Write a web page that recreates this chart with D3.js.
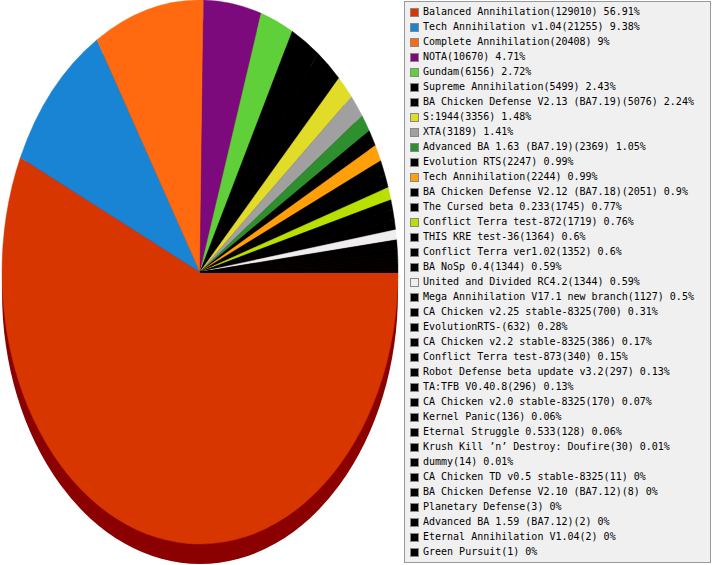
<!DOCTYPE html>
<html>
<head>
    <meta charset="utf-8">
    <style>
        body{
            margin:0;
            background:white;
        }
        svg{
            display:block;
            background-color:white;
        }
        .legend{
            position:absolute;
            left:404px;
            top:1px;
            width:305px;
            height:560px;
            background:#f0f0f0;
            border:1px solid #999;
        }
        .row{
            position:absolute;
            left:0;
            height:15px;
            white-space:nowrap;
            font-family:"DejaVu Sans Mono", "Liberation Mono", monospace;
            font-size:10px;
            line-height:15px;
            color:#000;
        }
        .sw{
            position:absolute;
            left:5px;
            top:3px;
            width:7px;
            height:7px;
            border:1px solid #888;
        }
        .lbl{
            position:absolute;
            left:18px;
            top:-1px;
        }
    </style>
</head>
<body>
<script src="https://d3js.org/d3.v7.min.js"></script>
<script>

const names = [
    'Balanced Annihilation', 'Tech Annihilation v1.04', 'Complete Annihilation', 'NOTA', 'Gundam',
    'Supreme Annihilation', 'BA Chicken Defense V2.13 (BA7.19)', 'S:1944', 'XTA', 'Advanced BA 1.63 (BA7.19)',
    'Evolution RTS', 'Tech Annihilation', 'BA Chicken Defense V2.12 (BA7.18)', 'The Cursed beta 0.233',
    'Conflict Terra test-872', 'THIS KRE test-36', 'Conflict Terra ver1.02', 'BA NoSp 0.4',
    'United and Divided RC4.2', 'Mega Annihilation V17.1 new branch', 'CA Chicken v2.25 stable-8325',
    'EvolutionRTS-', 'CA Chicken v2.2 stable-8325', 'Conflict Terra test-873', 'Robot Defense beta update v3.2',
    'TA:TFB V0.40.8', 'CA Chicken v2.0 stable-8325', 'Kernel Panic', 'Eternal Struggle 0.533',
    'Krush Kill \u2019n\u2019 Destroy: Doufire', 'dummy', 'CA Chicken TD v0.5 stable-8325',
    'BA Chicken Defense V2.10 (BA7.12)', 'Planetary Defense', 'Advanced BA 1.59 (BA7.12)',
    'Eternal Annihilation V1.04', 'Green Pursuit'
];

const counts = [
    129010, 21255, 20408, 10670, 6156,
    5499, 5076, 3356, 3189, 2369,
    2247, 2244, 2051, 1745,
    1719, 1364, 1352, 1344,
    1344, 1127, 700,
    632, 386, 340, 297,
    296, 170, 136, 128,
    30, 14, 11,
    8, 3, 2,
    2, 1
];

const percents = [
    '56.91', '9.38', '9', '4.71', '2.72',
    '2.43', '2.24', '1.48', '1.41', '1.05',
    '0.99', '0.99', '0.9', '0.77',
    '0.76', '0.6', '0.6', '0.59',
    '0.59', '0.5', '0.31',
    '0.28', '0.17', '0.15', '0.13',
    '0.13', '0.07', '0.06', '0.06',
    '0.01', '0.01', '0',
    '0', '0', '0',
    '0', '0'
];

const colors = [
    '#d83600', '#1a84d4', '#ff6a10', '#7c0a7c', '#5fcf3a',
    '#000000', '#000000', '#e0dc28', '#a0a0a0', '#2e8f2e',
    '#000000', '#ffa00a', '#000000', '#000000',
    '#b8e000', '#000000', '#000000', '#000000',
    '#eeeeee', '#000000', '#000000',
    '#000000', '#000000', '#000000', '#000000',
    '#000000', '#000000', '#000000', '#000000',
    '#000000', '#000000', '#000000',
    '#000000', '#000000', '#000000',
    '#000000', '#000000'
];

const width = 713;
const height = 565;

// pie ellipse
const cx = 200;
const cy = 272;
const rx = 198;
const ry = 272;
const depth = 20;

const rowH = 15;

const data = names.map((n, i) => ({name: n, count: counts[i], pct: percents[i], color: colors[i]}));

const svg = d3.select('body').append('svg')
    .attr('width', width)
    .attr('height', height);

const pie = d3.pie()
    .sort(null)
    .value(d => d.count)
    .startAngle(Math.PI / 2)
    .endAngle(Math.PI / 2 + Math.PI * 2);

const arc = d3.arc()
    .innerRadius(0)
    .outerRadius(ry);

// shadow under the pie
svg.append('ellipse')
    .attr('cx', cx)
    .attr('cy', cy + depth)
    .attr('rx', rx)
    .attr('ry', ry)
    .style('fill', '#8b0000');

const g = svg.append('g')
    .attr('transform', `translate(${cx}, ${cy}) scale(${rx / ry}, 1)`);

g.selectAll('path')
    .data(pie(data))
    .join('path')
        .attr('d', arc)
        .style('fill', d => d.data.color)
        .style('stroke', d => d.data.color)
        .style('stroke-width', 0.5);

// legend as html so the fixed-width font is used
const legend = d3.select('body').append('div')
    .attr('class', 'legend');

const rows = legend.selectAll('div.row')
    .data(data)
    .join('div')
        .attr('class', 'row')
        .style('top', (d, i) => `${3 + i * rowH}px`);

rows.append('div')
    .attr('class', 'sw')
    .style('background', d => d.color);

rows.append('span')
    .attr('class', 'lbl')
    .text(d => `${d.name}(${d.count}) ${d.pct}%`);

</script>
</body>
</html>
